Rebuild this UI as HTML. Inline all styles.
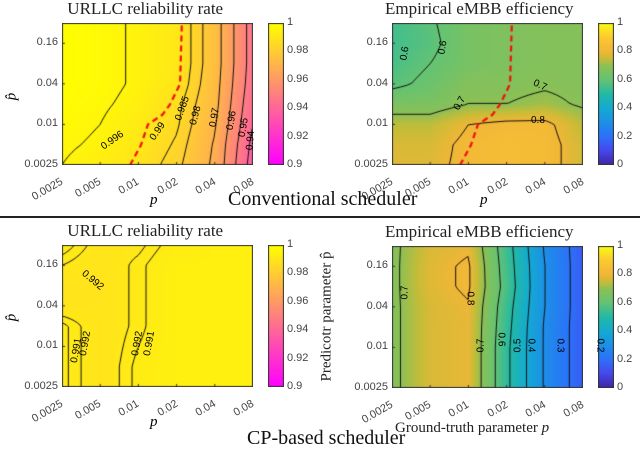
<!DOCTYPE html>
<html><head><meta charset="utf-8">
<style>
body{margin:0;background:#fff;width:640px;height:449px;position:relative;overflow:hidden;font-family:"Liberation Sans",sans-serif}
.t{position:absolute;white-space:nowrap}
.title{font-family:"Liberation Serif",serif;font-size:17px;color:#222}
.tick{font-size:11px;color:#444}
.big{font-family:"Liberation Serif",serif;font-size:20px;color:#111}
.ital{font-family:"Liberation Serif",serif;font-style:italic;font-size:15px}
canvas{position:absolute}
</style></head><body>
<div id="root"></div>
<div class="t big" style="left:228px;top:188px">Conventional scheduler</div>
<div style="position:absolute;left:0;top:216px;width:640px;height:2px;background:#222"></div>
<div class="t big" style="left:247px;top:427px">CP-based scheduler</div>
<script>
const pTicks=[0.0025,0.005,0.01,0.02,0.04,0.08];
const phatRows=[0.0025,0.005,0.01,0.02,0.04,0.08,0.16,0.32];
const yTickLabels=["0.0025","0.01","0.04","0.16"];
const xTickLabels=["0.0025","0.005","0.01","0.02","0.04","0.08"];
const redP=[0.0086,0.0105,0.0119,0.0155,0.0178,0.0213,0.022];
const redPhat=[0.0025,0.005,0.01,0.014,0.02,0.04,0.32];
const convURLLC=[
[0.996,0.993,0.989,0.982,0.968,0.935],
[0.997,0.995,0.991,0.984,0.969,0.937],
[0.998,0.996,0.992,0.986,0.971,0.940],
[0.999,0.997,0.994,0.987,0.973,0.942],
[0.9995,0.998,0.995,0.990,0.974,0.944],
[0.9995,0.998,0.995,0.991,0.975,0.945],
[0.9995,0.998,0.995,0.991,0.975,0.945],
[0.9995,0.998,0.995,0.991,0.975,0.945]];
const convURLLCLevels=[0.996,0.985,0.98,0.97,0.96,0.95,0.94];
const convEMBB=[
[0.78,0.78,0.82,0.84,0.83,0.76],
[0.77,0.77,0.82,0.84,0.83,0.76],
[0.74,0.74,0.80,0.82,0.82,0.74],
[0.66,0.66,0.70,0.70,0.72,0.69],
[0.58,0.62,0.68,0.68,0.69,0.68],
[0.56,0.60,0.65,0.67,0.68,0.68],
[0.55,0.58,0.65,0.67,0.68,0.68],
[0.55,0.59,0.65,0.67,0.68,0.68]];
const convEMBBLevels=[0.6,0.7,0.8];
const cpURLLC=[
[0.9925,0.9895,0.9925,0.994,0.994,0.994],
[0.9925,0.9895,0.9925,0.994,0.994,0.994],
[0.9925,0.9895,0.992,0.994,0.994,0.994],
[0.9925,0.9895,0.9915,0.994,0.994,0.994],
[0.9895,0.9895,0.9915,0.994,0.994,0.994],
[0.9895,0.9895,0.9915,0.994,0.994,0.994],
[0.991,0.9895,0.9915,0.994,0.994,0.994],
[0.993,0.990,0.9905,0.993,0.994,0.994]];
const cpURLLCLevels=[0.991,0.992];
const cpEMBB=[
[0.68,0.77,0.79,0.52,0.29,0.15],
[0.68,0.77,0.79,0.52,0.29,0.15],
[0.68,0.77,0.79,0.52,0.29,0.15],
[0.68,0.77,0.79,0.53,0.29,0.15],
[0.68,0.77,0.795,0.54,0.30,0.15],
[0.68,0.78,0.81,0.56,0.30,0.15],
[0.68,0.78,0.81,0.55,0.30,0.15],
[0.68,0.77,0.79,0.54,0.29,0.15]];
const cpEMBBLevels=[0.2,0.3,0.4,0.5,0.6,0.7,0.8];

function spring(t){t=Math.max(0,Math.min(1,t));return [255,Math.round(255*t),Math.round(255*(1-t))];}
const PAR=[[0,62,38,168],[0.1,71,72,236],[0.2,44,113,250],[0.3,28,145,230],[0.4,20,170,210],[0.5,35,185,165],[0.6,100,195,115],[0.7,140,192,85],[0.75,200,188,55],[0.8,240,182,55],[0.9,252,200,50],[1,249,251,14]];
function parula(t){t=Math.max(0,Math.min(1,t));for(let i=1;i<PAR.length;i++){if(t<=PAR[i][0]){const a=PAR[i-1],b=PAR[i],f=(t-a[0])/(b[0]-a[0]);return [0,1,2].map(k=>Math.round(a[k+1]+f*(b[k+1]-a[k+1])));}}return [249,251,14];}

const root=document.getElementById('root');
function txt(s,x,y,cls,extra){const d=document.createElement('div');d.className='t '+cls;d.textContent=s;d.style.left=x+'px';d.style.top=y+'px';if(extra)d.style.cssText+=extra;root.appendChild(d);return d;}

function panel(o){
 const W=191,H=142,X=o.x,Y=o.y;
 const xs=i=>X+W*Math.log2(i/pTicks[0])/5;
 const ys=v=>Y+H-H*Math.log2(v/phatRows[0])/7;
 const data=o.data;
 function val(fx,fy){
  const i=Math.min(4,Math.floor(fx)),j=Math.min(6,Math.floor(fy));const u=fx-i,v=fy-j;
  return data[j][i]*(1-u)*(1-v)+data[j][i+1]*u*(1-v)+data[j+1][i]*(1-u)*v+data[j+1][i+1]*u*v;}
 const c=document.createElement('canvas');c.width=W;c.height=H;c.style.left=X+'px';c.style.top=Y+'px';
 
 
 root.appendChild(c);const g=c.getContext('2d');const img=g.createImageData(W,H);
 for(let py=0;py<H;py++)for(let px=0;px<W;px++){const fx=5*(px+0.5)/W,fy=7*(H-py-0.5)/H;const col=o.cmap((val(fx,fy)-o.vmin)/(o.vmax-o.vmin));const k=4*(py*W+px);img.data[k]=col[0];img.data[k+1]=col[1];img.data[k+2]=col[2];img.data[k+3]=255;}
 g.putImageData(img,0,0);
 const N=2;g.strokeStyle='#111';g.lineWidth=1;
 for(const L of o.levels){g.beginPath();
  for(let py=0;py<H;py+=N)for(let px=0;px<W;px+=N){
   const f=(x,y)=>val(5*x/W,7*(H-y)/H)-L;
   const a=f(px,py),b=f(px+N,py),cc=f(px+N,py+N),d=f(px,py+N);const pts=[];
   if((a>0)!=(b>0))pts.push([px+N*a/(a-b),py]);
   if((b>0)!=(cc>0))pts.push([px+N,py+N*b/(b-cc)]);
   if((cc>0)!=(d>0))pts.push([px+N-N*cc/(cc-d),py+N]);
   if((d>0)!=(a>0))pts.push([px,py+N-N*d/(d-a)]);
   if(pts.length>=2){g.moveTo(pts[0][0],pts[0][1]);g.lineTo(pts[1][0],pts[1][1]);}
   if(pts.length==4){g.moveTo(pts[2][0],pts[2][1]);g.lineTo(pts[3][0],pts[3][1]);}
  }g.stroke();}
 if(o.red){g.strokeStyle='#f01010';g.lineWidth=2.2;g.setLineDash([6,4]);g.beginPath();
  redP.forEach((p,i)=>{const x=xs(p)-X,y=ys(redPhat[i])-Y;i?g.lineTo(x,y):g.moveTo(x,y);});g.stroke();g.setLineDash([]);}
 g.strokeStyle='#333';g.lineWidth=1;g.strokeRect(0.5,0.5,W-1,H-1);
 g.beginPath();pTicks.forEach(p=>{const x=xs(p)-X;g.moveTo(x,H);g.lineTo(x,H-3);});
 [0.0025,0.01,0.04,0.16].forEach(v=>{const y=ys(v)-Y;g.moveTo(0,y);g.lineTo(3,y);});g.stroke();
 txt(o.title,X+W/2-o.title.length*4.1,Y-24,'title');
 yTickLabels.forEach((s,i)=>{const v=[0.0025,0.01,0.04,0.16][i];txt(s,X-4,ys(v)-7,'tick','transform:translateX(-100%)');});
 xTickLabels.forEach((s,i)=>{txt(s,xs(pTicks[i])-38,Y+H+10,'tick','transform:rotate(-30deg);transform-origin:100% 50%;width:38px;text-align:right');});
 const cb=document.createElement('canvas');cb.width=16;cb.height=H;cb.style.left=(X+206)+'px';cb.style.top=Y+'px';
 
 
 root.appendChild(cb);const h=cb.getContext('2d');
 for(let py=0;py<H;py++){const col=o.cmap(1-py/(H-1));h.fillStyle=`rgb(${col})`;h.fillRect(0,py,16,1);}
 h.strokeStyle='#333';h.strokeRect(0.5,0.5,15,H-1);
 o.cbTicks.forEach((s,i)=>{txt(s,X+225,Y+H*i/(o.cbTicks.length-1)-7,'tick');});
 (o.lbls||[]).forEach(l=>{txt(l[0],l[1],l[2],'tick','transform:rotate('+l[3]+'deg);font-size:10px;color:#000');});
}
const springTicks=["1","0.98","0.96","0.94","0.92","0.9"],parTicks=["1","0.8","0.6","0.4","0.2","0"];
panel({x:62,y:23,data:convURLLC,levels:convURLLCLevels,cmap:spring,vmin:0.9,vmax:1,title:"URLLC reliability rate",cbTicks:springTicks,red:true,name:'conv-urllc',
 lbls:[["0.996",100,135,-35],["0.99",148,126,-55],["0.985",170,103,-70],["0.98",186,110,-75],["0.97",205,112,-80],["0.96",222,115,-80],["0.95",234,122,-80],["0.94",241,135,-85]]});
panel({x:392,y:23,data:convEMBB,levels:convEMBBLevels,cmap:parula,vmin:0,vmax:1,title:"Empirical eMBB efficiency",cbTicks:parTicks,red:true,name:'conv-embb',
 lbls:[["0.6",398,48,-80],["0.6",436,42,-80],["0.7",453,98,-60],["0.7",533,80,25],["0.8",531,115,0]]});
panel({x:62,y:245,data:cpURLLC,levels:cpURLLCLevels,cmap:spring,vmin:0.9,vmax:1,title:"URLLC reliability rate",cbTicks:springTicks,name:'cp-urllc',
 lbls:[["0.991",64,345,-80],["0.992",73,338,-80],["0.992",125,338,-80],["0.991",137,338,-80],["0.992",80,275,40]]});
panel({x:392,y:246,data:cpEMBB,levels:cpEMBBLevels,cmap:parula,vmin:0,vmax:1,title:"Empirical eMBB efficiency",cbTicks:parTicks,name:'cp-embb',
 lbls:[["0.7",398,287,-90],["0.8",463,293,90],["0.7",474,340,-90],["0.6",494,334,90],["0.5",511,340,-90],["0.4",524,340,90],["0.3",553,340,90],["0.2",593,340,90]]});
txt("p",150,192,'ital');txt("p",480,192,'ital');txt("p",150,414,'ital');
txt("p̂",8,88,'ital','transform:rotate(-90deg)');txt("p̂",8,309,'ital','transform:rotate(-90deg)');
const xl=txt("Ground-truth parameter ",395,420,'title','font-size:15px');
const it=document.createElement('i');it.textContent='p';xl.appendChild(it);
txt("Predicotr parameter p̂",262,308,'title','font-size:15px;transform:rotate(-90deg);transform-origin:50% 50%');
</script>
</body></html>
